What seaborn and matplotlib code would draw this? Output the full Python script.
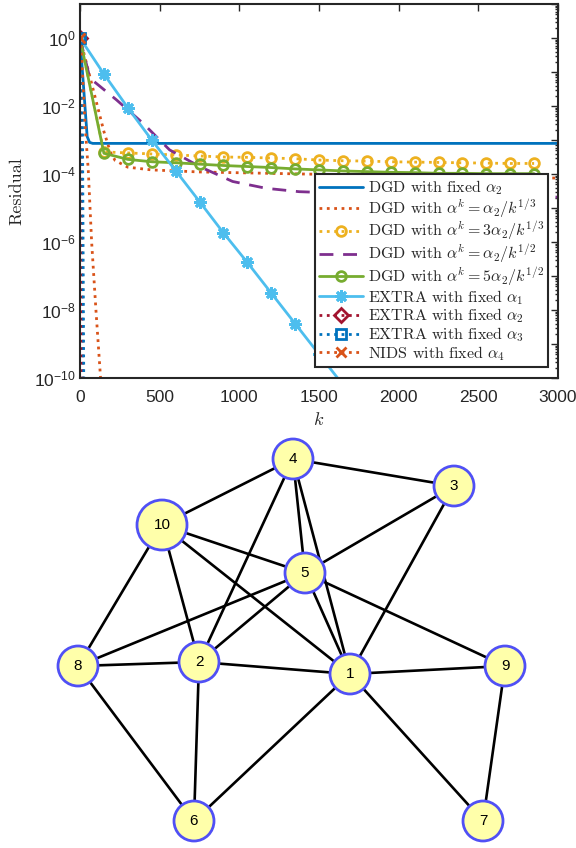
import numpy as np
import matplotlib
matplotlib.use('Agg')
import matplotlib.pyplot as plt
import seaborn as sns
from matplotlib.patches import Circle
from matplotlib.ticker import FixedLocator, FuncFormatter, NullFormatter

# ---- residual curves (values are log10 of the residual) ----
dgd_fixed_k = [0, 45, 60, 80, 3000]
dgd_fixed_log = [0, -2.9, -3.07, -3.1, -3.1]

dgd_cbrt_k = [0, 150, 190, 220, 300, 450, 750, 1400, 2000, 3000]
dgd_cbrt_log = [0, -2.75, -3.35, -3.6, -3.8, -3.88, -3.94, -4.0, -4.05, -4.12]

dgd_k_150 = [0, 150, 300, 450, 600, 750, 900, 1050, 1200, 1350, 1500,
             1650, 1800, 1950, 2100, 2250, 2400, 2550, 2700, 2850]
dgd_3cbrt_log = [0, -3.35, -3.38, -3.41, -3.44, -3.47, -3.50, -3.51, -3.53, -3.55,
                 -3.59, -3.61, -3.62, -3.64, -3.65, -3.66, -3.67, -3.68, -3.69, -3.69]
dgd_5sqrt_log = [0, -3.39, -3.57, -3.64, -3.67, -3.71, -3.75, -3.78, -3.81, -3.85,
                 -3.88, -3.91, -3.93, -3.95, -3.96, -3.98, -3.98, -3.99, -3.99, -3.99]

dgd_sqrt_k = [0, 62, 229, 396, 562, 750, 958, 1167, 1375, 1800, 2400, 3000]
dgd_sqrt_log = [0, -1.18, -1.82, -2.51, -3.29, -3.78, -4.22, -4.42, -4.52, -4.59, -4.64, -4.68]

extra1_k = [0, 150, 300, 450, 600, 750, 900, 1050, 1200, 1350, 1500, 1650]
extra1_log = [0, -1.06, -2.05, -3.0, -3.9, -4.81, -5.73, -6.6, -7.5, -8.4, -9.3, -10.2]

extra2_k = [0, 8, 16]
extra2_log = [0, -3.0, -10.5]

extra3_k = [0, 15, 24]
extra3_log = [0, -2.0, -10.5]

nids_k = [0, 10, 31, 52, 73, 100, 129, 140]
nids_log = [0, -0.5, -2.5, -3.9, -6.0, -8.0, -10.0, -10.8]

legend_labels = [
    r'DGD with fixed $\alpha_2$',
    r'DGD with $\alpha^k=\alpha_2/k^{1/3}$',
    r'DGD with $\alpha^k=3\alpha_2/k^{1/3}$',
    r'DGD with $\alpha^k=\alpha_2/k^{1/2}$',
    r'DGD with $\alpha^k=5\alpha_2/k^{1/2}$',
    r'EXTRA with fixed $\alpha_1$',
    r'EXTRA with fixed $\alpha_2$',
    r'EXTRA with fixed $\alpha_3$',
    r'NIDS with fixed $\alpha_4$',
]

# ---- network graph ----
node_ids = ['1', '2', '3', '4', '5', '6', '7', '8', '9', '10']
node_x = [350, 199, 454, 293, 305, 194, 483, 78, 505, 162]
node_y = [674, 662, 486, 459, 573, 821, 821, 666, 666, 525]
node_r = [20, 20, 20, 20, 20, 20, 20, 20, 20, 25]
edge_from = ['4', '4', '4', '4', '4', '3', '3', '10', '10', '10', '10', '5',
             '5', '5', '5', '8', '2', '1', '8', '2', '1', '1', '9']
edge_to = ['3', '10', '2', '5', '1', '5', '1', '5', '1', '2', '8', '8',
           '2', '1', '9', '2', '1', '9', '6', '6', '6', '7', '7']


def make_figure():
    sns.set_style("white")
    plt.rcParams['font.family'] = ['Liberation Sans', 'DejaVu Sans']
    plt.rcParams['mathtext.fontset'] = 'cm'

    fig = plt.figure(figsize=(5.76, 8.48), dpi=100)
    ax = fig.add_axes([80 / 576, 1 - 378 / 848, 478 / 576, 374 / 848])

    series = [
        (dgd_fixed_k, dgd_fixed_log, '#0072BD', '-', None, None, 0),
        (dgd_cbrt_k, dgd_cbrt_log, '#D95319', ':', None, None, 0),
        (dgd_k_150, dgd_3cbrt_log, '#EDB120', ':', 'o', None, 7),
        (dgd_sqrt_k, dgd_sqrt_log, '#7E2F8E', (0, (5, 3.5)), None, None, 0),
        (dgd_k_150, dgd_5sqrt_log, '#77AC30', '-', 'o', None, 7),
        (extra1_k, extra1_log, '#4DBEEE', '-', (8, 2, 0), None, 9),
        (extra2_k, extra2_log, '#A2142F', ':', 'D', [0], 7),
        (extra3_k, extra3_log, '#0072BD', ':', 's', [0], 7),
        (nids_k, nids_log, '#D95319', ':', 'x', [0], 7),
    ]
    for (k, lg, color, ls, mk, every, ms), label in zip(series, legend_labels):
        kw = dict(linestyle=ls, linewidth=2, color=color)
        if mk is not None:
            kw.update(marker=mk, markersize=ms, markerfacecolor='none',
                      markeredgecolor=color, markeredgewidth=2)
            if every is not None:
                kw['markevery'] = every
        sns.lineplot(x=np.array(k), y=10.0 ** np.array(lg), ax=ax, sort=False,
                     estimator=None, errorbar=None, label=label, **kw)

    ax.set_yscale('log')
    ax.set_xlim(0, 3000)
    ax.set_ylim(1e-10, 1e1)
    ax.set_xticks([0, 500, 1000, 1500, 2000, 2500, 3000])
    ax.yaxis.set_major_locator(FixedLocator([10.0 ** e for e in range(-10, 2)]))
    ax.yaxis.set_minor_locator(FixedLocator(
        [m * 10.0 ** e for e in range(-10, 1) for m in range(2, 10)]))
    ax.yaxis.set_minor_formatter(NullFormatter())

    def ylab(v, pos):
        e = int(round(np.log10(v)))
        return r'$\mathdefault{10^{%d}}$' % e if e % 2 == 0 else ''
    ax.yaxis.set_major_formatter(FuncFormatter(ylab))

    ax.tick_params(which='both', direction='in', top=True, right=True,
                   colors='#262626', labelsize=12.5)
    ax.tick_params(axis='x', pad=9)
    ax.tick_params(axis='y', pad=3)
    ax.tick_params(which='major', length=5, width=1)
    ax.tick_params(which='minor', length=2.5, width=1)
    for sp in ax.spines.values():
        sp.set_linewidth(1.5)
        sp.set_color('#262626')

    ax.set_xlabel('$k$', fontsize=13, labelpad=5)
    ax.set_ylabel('Residual', family='cmr10', fontsize=13, labelpad=7)

    handles, labels = ax.get_legend_handles_labels()
    leg = ax.legend(handles, labels, loc='lower right', bbox_to_anchor=(0.98, 0.03),
                    borderaxespad=0, prop={'family': 'cmr10', 'size': 11.5},
                    handlelength=2.8, handletextpad=0.3, labelspacing=0.0,
                    borderpad=0.25, fancybox=False, framealpha=1, edgecolor='#262626')
    leg.get_frame().set_linewidth(1.5)

    # ---- network graph below ----
    gax = fig.add_axes([0, 0, 1, 424 / 848])
    gax.set_xlim(0, 576)
    gax.set_ylim(848, 424)
    gax.axis('off')
    pos = {n: (x, y) for n, x, y in zip(node_ids, node_x, node_y)}
    for a, b in zip(edge_from, edge_to):
        gax.plot([pos[a][0], pos[b][0]], [pos[a][1], pos[b][1]],
                 color='black', linewidth=1.9, zorder=1, solid_capstyle='round')
    for n, x, y, r in zip(node_ids, node_x, node_y, node_r):
        gax.add_patch(Circle((x, y), r, facecolor='#FFFFAA', edgecolor='#5050F5',
                             linewidth=2, zorder=2))
        gax.text(x, y, n, ha='center', va='center', fontsize=11,
                 family='Liberation Sans', color='black', zorder=3)

    fig.savefig('out.png', dpi=100)
    plt.close(fig)


if __name__ == "__main__":
    make_figure()
